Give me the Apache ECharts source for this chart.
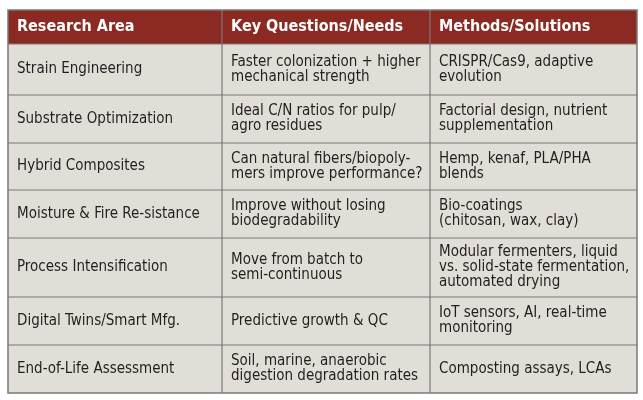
<!DOCTYPE html>
<html><head><meta charset="utf-8">
<script src="https://cdn.jsdelivr.net/npm/echarts@6/dist/echarts.min.js"></script>
<style>html,body{margin:0;padding:0;background:#fff}#c{width:643px;height:400px}</style>
</head><body><div id="c"></div>
<script>
var headers = ['Research Area', 'Key Questions/Needs', 'Methods/Solutions'];
var researchAreas = ['Strain Engineering','Substrate Optimization','Hybrid Composites','Moisture & Fire Re-sistance','Process Intensification','Digital Twins/Smart Mfg.','End-of-Life Assessment'];
var keyQuestions = ['Faster colonization + higher\nmechanical strength','Ideal C/N ratios for pulp/\nagro residues','Can natural fibers/biopoly-\nmers improve performance?','Improve without losing\nbiodegradability','Move from batch to\nsemi-continuous','Predictive growth & QC','Soil, marine, anaerobic\ndigestion degradation rates'];
var methods = ['CRISPR/Cas9, adaptive\nevolution','Factorial design, nutrient\nsupplementation','Hemp, kenaf, PLA/PHA\nblends','Bio-coatings\n(chitosan, wax, clay)','Modular fermenters, liquid\nvs. solid-state fermentation,\nautomated drying','IoT sensors, AI, real-time\nmonitoring','Composting assays, LCAs'];

var colX = [8, 222, 430, 637];
var rowY = [10, 44, 95, 143, 190, 238, 297, 345, 393];
var font = '"Liberation Sans Narrow","DejaVu Sans Condensed",sans-serif';
var els = [];
els.push({type:'rect',shape:{x:colX[0],y:rowY[1],width:colX[3]-colX[0],height:rowY[8]-rowY[1]},style:{fill:'#e1ddd7'}});
els.push({type:'rect',shape:{x:colX[0],y:rowY[0],width:colX[3]-colX[0],height:rowY[1]-rowY[0]},style:{fill:'#8b2a22'}});
var cols = [researchAreas, keyQuestions, methods];
for (var c=0;c<3;c++){
  els.push({type:'text',x:colX[c]+9,y:(rowY[0]+rowY[1])/2,style:{text:headers[c],fill:'#fff',font:'bold 16px '+font,verticalAlign:'middle'}});
  for (var r=0;r<researchAreas.length;r++){
    els.push({type:'text',x:colX[c]+9,y:(rowY[r+1]+rowY[r+2])/2,style:{text:cols[c][r],fill:'#231f20',font:'15px '+font,lineHeight:15,verticalAlign:'middle'}});
  }
}
for (var i=1;i<rowY.length;i++) if(i<rowY.length-1) els.push({type:'line',shape:{x1:colX[0],y1:rowY[i],x2:colX[3],y2:rowY[i]},style:{stroke:'#7a7a7a',lineWidth:1.2}});
for (var j=1;j<3;j++) els.push({type:'line',shape:{x1:colX[j],y1:rowY[0],x2:colX[j],y2:rowY[8]},style:{stroke:'#7a7a7a',lineWidth:1.2}});
els.push({type:'rect',shape:{x:colX[0],y:rowY[0],width:colX[3]-colX[0],height:rowY[8]-rowY[0]},style:{fill:'none',stroke:'#7a7a7a',lineWidth:1.5}});
var chart = echarts.init(document.getElementById('c'));
chart.setOption({animation:false,graphic:els});
</script></body></html>
